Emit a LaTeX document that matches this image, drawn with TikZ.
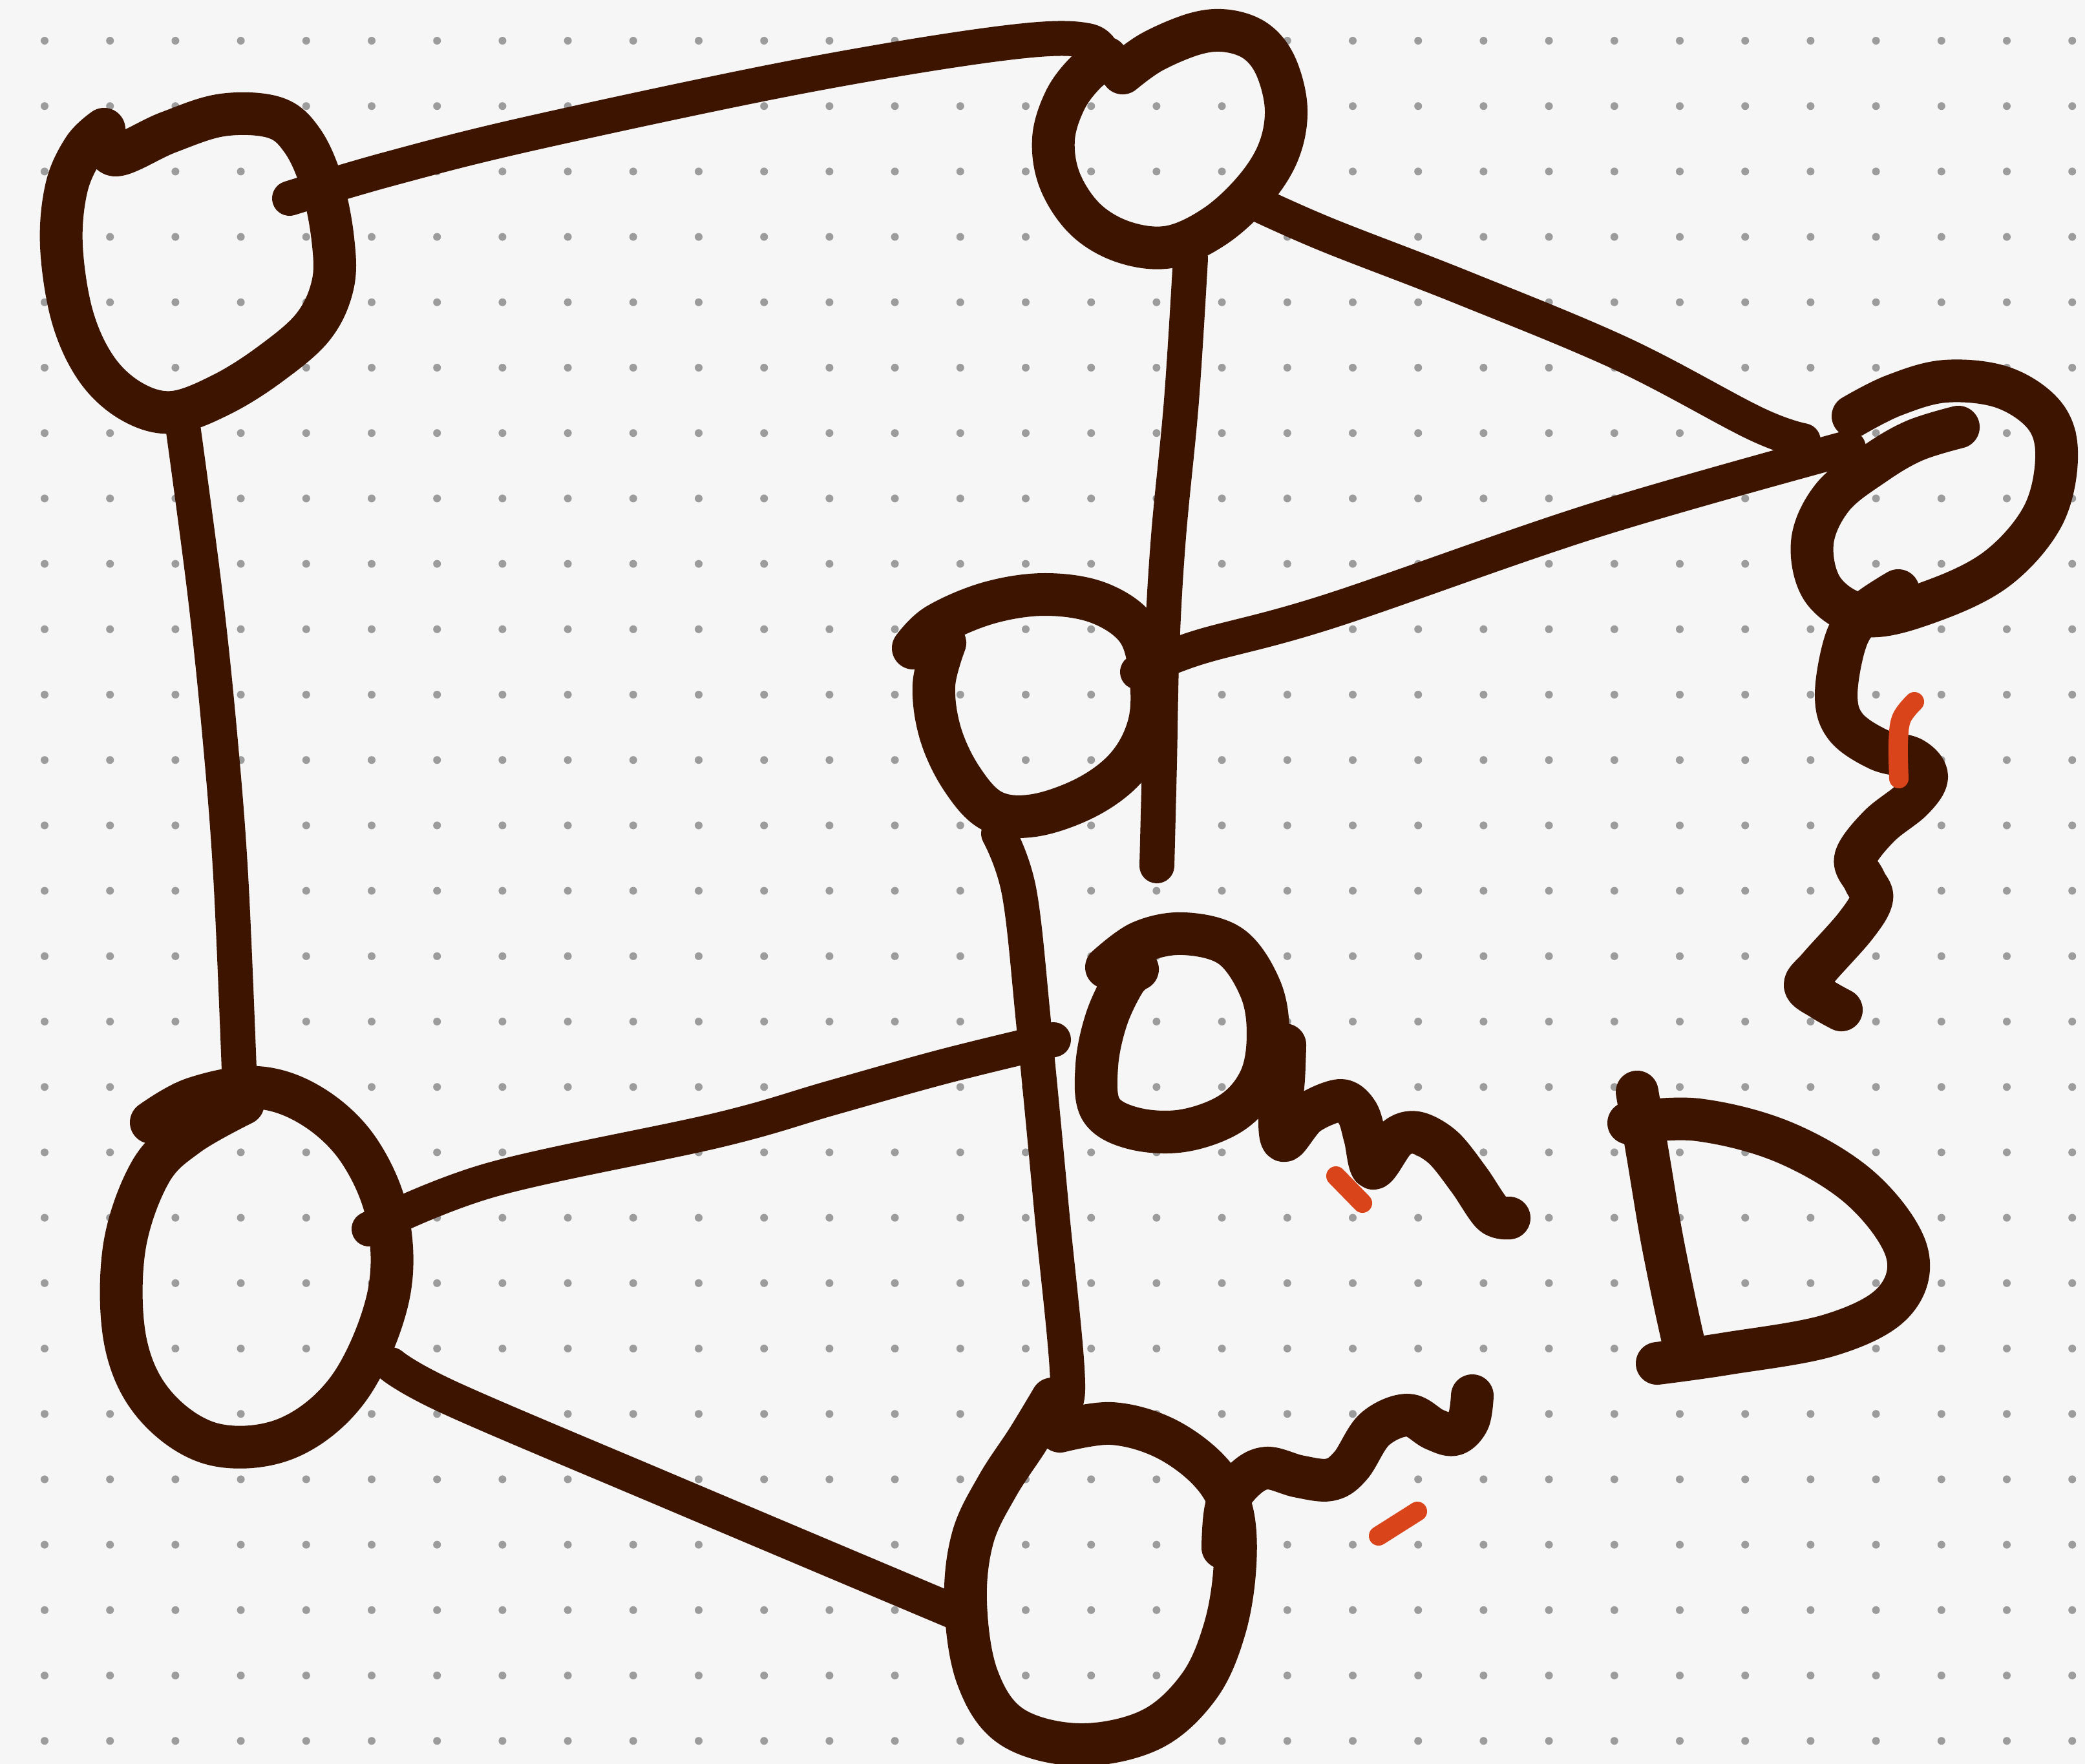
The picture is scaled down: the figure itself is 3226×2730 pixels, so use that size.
\documentclass[tikz,border=0pt]{standalone}
\definecolor{ink}{HTML}{3C1400}
\definecolor{redink}{HTML}{D9441A}
\definecolor{paper}{HTML}{F6F6F6}
\definecolor{dotc}{HTML}{9C9C9C}
\begin{document}
\begin{tikzpicture}[x=0.01cm,y=-0.01cm,
  ring/.style={draw=ink,line width=0.66cm,line cap=round,line join=round},
  link/.style={draw=ink,line width=0.54cm,line cap=round,line join=round},
  redmark/.style={draw=redink,line width=0.3cm,line cap=round}]
\fill[paper] (0,0) rectangle (3226,2730);
\useasboundingbox (0,0) rectangle (3226,2730);
\foreach \i in {0,...,31}{\foreach \j in {0,...,26}{\fill[dotc] (69+101.2*\i,63+101.2*\j) circle[radius=0.06cm];}}
% node centres
\coordinate (A) at (308,405);
\coordinate (B) at (1808,215);
\coordinate (C) at (2990,770);
\coordinate (D) at (1600,1090);
\coordinate (E) at (398,1960);
\coordinate (F) at (1700,2450);
\coordinate (G) at (1820,1590);
% connector ends
\coordinate (ab1) at (448,307);  \coordinate (ab2) at (1710,98);
\coordinate (ae1) at (283,660);  \coordinate (ae2) at (370,1655);
\coordinate (bc1) at (1927,307); \coordinate (bc2) at (2790,682);
\coordinate (cd1) at (2860,693); \coordinate (cd2) at (1760,1040);
\coordinate (bv1) at (1842,400); \coordinate (bv2) at (1790,1340);
\coordinate (df1) at (1545,1290); \coordinate (df2) at (1622,2166);
\coordinate (eg1) at (571,1902); \coordinate (eg2) at (1630,1609);
\coordinate (ef1) at (605,2112); \coordinate (ef2) at (1478,2495);
\coordinate (cw1) at (2937,914); \coordinate (cw2) at (2849,1563);
\coordinate (fw1) at (1892,2395); \coordinate (fw2) at (2278,2160);
% circle A
\draw[ring] plot[smooth,tension=0.6] coordinates {(161,200) (178,240) (260,205) (344,178) (425,182) (468,218) (498,285) (515,370) (515,440) (485,505) (420,562) (344,610) (268,638) (205,622) (150,572) (112,490) (95,380) (103,290) (130,230) (161,200)};
% circle B
\draw[ring] plot[smooth,tension=0.6] coordinates {(1737,113) (1783,80) (1850,52) (1900,48) (1945,65) (1975,105) (1990,170) (1978,235) (1940,295) (1880,350) (1810,382) (1740,375) (1680,340) (1640,280) (1630,215) (1648,155) (1680,112) (1712,90)};
% circle C
\draw[ring] plot[smooth,tension=0.6] coordinates {(2867,644) (2930,612) (3010,590) (3100,600) (3165,645) (3182,710) (3160,800) (3090,880) (2990,930) (2890,953) (2822,915) (2804,840) (2835,770) (2900,718) (2962,682) (3030,661)};
% circle D
\draw[ring] plot[smooth,tension=0.6] coordinates {(1413,1003) (1450,967) (1530,933) (1617,920) (1700,933) (1760,975) (1780,1045) (1778,1120) (1745,1185) (1683,1233) (1600,1262) (1535,1255) (1488,1205) (1455,1135) (1445,1060) (1462,995)};
% circle E
\draw[ring] plot[smooth,tension=0.6] coordinates {(376,1708) (291,1756) (232,1815) (192,1933) (194,2076) (240,2175) (330,2235) (444,2226) (540,2148) (600,2010) (600,1885) (555,1780) (483,1712) (398,1683) (300,1700) (234,1737)};
% circle F
\draw[ring] plot[smooth,tension=0.6] coordinates {(1640,2215) (1720,2203) (1801,2225) (1870,2275) (1905,2335) (1911,2420) (1895,2520) (1855,2610) (1780,2677) (1669,2700) (1565,2672) (1512,2595) (1494,2480) (1505,2380) (1543,2300) (1590,2228) (1628,2165)};
% open loop G with its tail
\draw[ring] plot[smooth,tension=0.6] coordinates {(1712,1497) (1765,1458) (1832,1445) (1905,1465) (1950,1530) (1962,1600) (1950,1670) (1906,1722) (1830,1750) (1753,1746) (1703,1716) (1697,1649) (1712,1577) (1740,1518) (1760,1500)};
\draw[ring] plot[smooth,tension=0.55] coordinates {(1988,1617) (1986,1670) (1980,1738) (1988,1765) (2023,1724) (2074,1703) (2100,1722) (2112,1760) (2125,1808) (2160,1762) (2192,1753) (2233,1776) (2273,1826) (2309,1878) (2335,1885)};
% connectors
\draw[link] plot[smooth,tension=0.6] coordinates {(ab1) (600,262) (823,206) (1234,119) (1550,67) (1683,63) (ab2)};
\draw[link] plot[smooth,tension=0.6] coordinates {(ae1) (317,917) (340,1137) (357,1356) (ae2)};
\draw[link] plot[smooth,tension=0.6] coordinates {(bc1) (2050,362) (2263,445) (2510,548) (2715,655) (bc2)};
\draw[link] plot[smooth,tension=0.6] coordinates {(cd1) (2468,805) (2057,946) (1851,1003) (cd2)};
\draw[link] plot[smooth,tension=0.6] coordinates {(bv1) (1828,620) (1808,830) (1798,1000) (1794,1180) (bv2)};
\draw[link] plot[smooth,tension=0.6] coordinates {(df1) (1577,1381) (1600,1591) (1627,1872) (1652,2150) (df2)};
\draw[link] plot[smooth,tension=0.6] coordinates {(eg1) (760,1826) (1111,1749) (1287,1699) (1462,1650) (eg2)};
\draw[link] plot[smooth,tension=0.6] coordinates {(ef1) (700,2165) (1040,2310) (ef2)};
% wavy strands
\draw[ring] plot[smooth,tension=0.6] coordinates {(cw1) (2885,949) (2856,991) (2841,1075) (2856,1125) (2907,1160) (2959,1174) (2981,1202) (2959,1237) (2907,1279) (2871,1328) (2885,1363) (2896,1391) (2871,1433) (2815,1496) (2793,1525) (2819,1546) (cw2)};
\draw[ring] plot[smooth,tension=0.6] coordinates {(fw1) (1898,2330) (1925,2290) (1960,2272) (2010,2285) (2058,2290) (2090,2268) (2127,2212) (2178,2190) (2219,2212) (2250,2220) (2272,2198) (fw2)};
% D shape
\draw[ring] plot[smooth,tension=0.5] coordinates {(2533,1690) (2550,1790) (2570,1910) (2590,2010) (2604,2074)};
\draw[ring] plot[smooth,tension=0.6] coordinates {(2520,1738) (2627,1733) (2761,1768) (2880,1840) (2950,1937) (2930,2015) (2832,2066) (2671,2095) (2564,2110)};
% red ticks
\draw[redmark] plot[smooth,tension=0.6] coordinates {(2962,1086) (2942,1112) (2937,1150) (2938,1205)};
\draw[redmark] (2067,1820) -- (2108,1862);
\draw[redmark] (2193,2339) -- (2133,2377);
\end{tikzpicture}
\end{document}
